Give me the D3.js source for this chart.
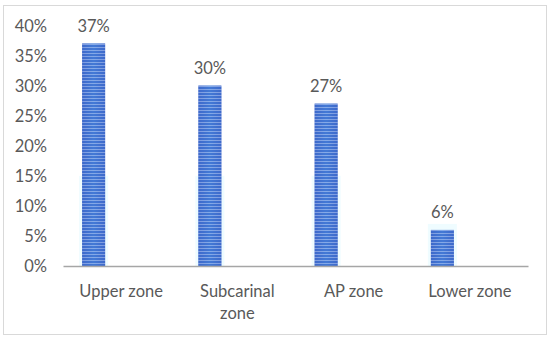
<!DOCTYPE html>
<html>
<head>
<meta charset="utf-8">
<script src="https://cdn.jsdelivr.net/npm/d3@7"></script>
<style>
  body { margin: 0; background: #fff; }
  svg text { font-family: Lato, "Open Sans", sans-serif; fill: #595959; }
</style>
</head>
<body>
<div id="chart"></div>
<script>
var categories = ["Upper zone", "Subcarinal zone", "AP zone", "Lower zone"];
var labelLines = [["Upper zone"], ["Subcarinal", "zone"], ["AP zone"], ["Lower zone"]];
var values = [0.37, 0.30, 0.27, 0.06];
var yTicks = [0, 0.05, 0.10, 0.15, 0.20, 0.25, 0.30, 0.35, 0.40];

var w = 550, h = 341;
var mLeft = 63, mRight = 528, mTop = 25.5, mBottom = 266;
var fs = 16.5;

var svg = d3.select("#chart").append("svg")
  .attr("width", w)
  .attr("height", h);

// chart frame
svg.append("rect")
  .attr("x", 3.5).attr("y", 5.5)
  .attr("width", 543).attr("height", 329)
  .attr("fill", "#fff")
  .attr("stroke", "#d9d9d9");

var defs = svg.append("defs");
var grad = defs.append("linearGradient").attr("id", "barGrad")
  .attr("x1", "0").attr("x2", "1").attr("y1", "0").attr("y2", "0");
grad.append("stop").attr("offset", "0%").attr("stop-color", "#3d62c6");
grad.append("stop").attr("offset", "50%").attr("stop-color", "#4a86dc");
grad.append("stop").attr("offset", "100%").attr("stop-color", "#3d62c6");

var pat = defs.append("pattern").attr("id", "stripes")
  .attr("patternUnits", "userSpaceOnUse")
  .attr("width", 4).attr("height", 3);
pat.append("rect").attr("width", 4).attr("height", 2).attr("fill", "#3e6fcf");
pat.append("rect").attr("y", 2).attr("width", 4).attr("height", 1).attr("fill", "#b4c8f2");

var x = d3.scaleBand().domain(categories).range([mLeft, mRight]);
var y = d3.scaleLinear().domain([0, 0.40]).range([mBottom, mTop]);

var barW = 23;
var offset = -27.5; // bars sit left of the category centre

function barX(i) { return x(categories[i]) + x.bandwidth() / 2 + offset - barW / 2; }

// faint glow behind bars
svg.append("g").selectAll("rect")
  .data(values)
  .join("rect")
  .attr("x", function(d, i) { return barX(i) - 3; })
  .attr("y", function(d) { return y(Math.min(d + 0.01, 0.15)); })
  .attr("width", barW + 6)
  .attr("height", function(d) { return mBottom - y(Math.min(d + 0.01, 0.15)); })
  .attr("fill", "#effcff");

var bars = svg.append("g");
bars.selectAll("rect.base")
  .data(values)
  .join("rect")
  .attr("class", "base")
  .attr("x", function(d, i) { return barX(i); })
  .attr("y", function(d) { return y(d); })
  .attr("width", barW)
  .attr("height", function(d) { return mBottom - y(d); })
  .attr("fill", "url(#barGrad)");
bars.selectAll("rect.str")
  .data(values)
  .join("rect")
  .attr("class", "str")
  .attr("x", function(d, i) { return barX(i); })
  .attr("y", function(d) { return y(d); })
  .attr("width", barW)
  .attr("height", function(d) { return mBottom - y(d); })
  .attr("fill", "url(#stripes)")
  .attr("opacity", 0.55);

// value labels
svg.append("g").selectAll("text")
  .data(values)
  .join("text")
  .attr("x", function(d, i) { return barX(i) + barW / 2; })
  .attr("y", function(d) { return y(d) - 12; })
  .attr("text-anchor", "middle")
  .attr("font-size", fs)
  .text(function(d) { return Math.round(d * 100) + "%"; });

// y axis labels
var yAxis = d3.axisLeft(y).tickValues(yTicks).tickSize(0).tickPadding(0)
  .tickFormat(function(d) { return Math.round(d * 100) + "%"; });
var yg = svg.append("g").attr("transform", "translate(47,0)").call(yAxis);
yg.select(".domain").remove();
yg.selectAll("text").attr("font-size", fs).attr("font-family", "Lato, sans-serif")
  .attr("dy", "0.35em").style("fill", "#595959");

// x axis line
var xAxis = d3.axisBottom(x).tickSize(0).tickFormat("");
var xg = svg.append("g").attr("transform", "translate(0," + mBottom + ")").call(xAxis);
xg.select(".domain").attr("stroke", "#a6a6a6").attr("stroke-width", 1.3);

// category labels
var lab = svg.append("g").selectAll("text")
  .data(labelLines)
  .join("text")
  .attr("text-anchor", "middle")
  .attr("font-size", fs)
  .attr("transform", function(d, i) { return "translate(" + (x(categories[i]) + x.bandwidth() / 2) + ",297)"; });
lab.selectAll("tspan")
  .data(function(d) { return d; })
  .join("tspan")
  .attr("x", 0)
  .attr("dy", function(d, j) { return j === 0 ? 0 : 22; })
  .text(function(d) { return d; });
</script>
</body>
</html>
